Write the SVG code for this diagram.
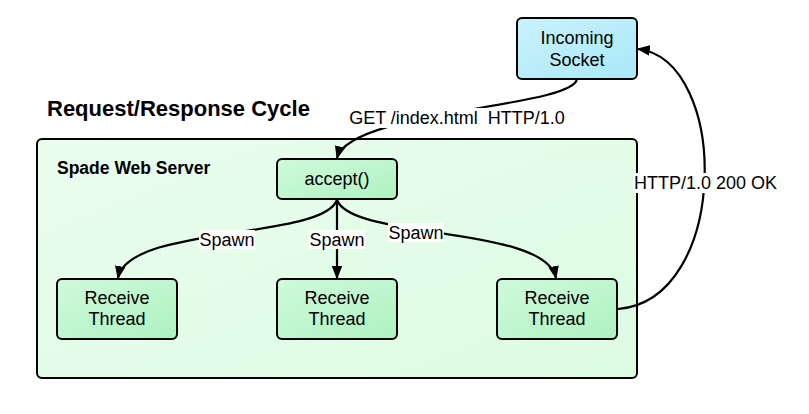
<svg xmlns="http://www.w3.org/2000/svg" width="809" height="414" viewBox="0 0 809 414">
<style>
text{font-family:"Liberation Sans",Arial,sans-serif;fill:#000}
.t{font-size:18px;text-anchor:middle}
.box{stroke:#000;stroke-width:2}
.edge{fill:none;stroke:#000;stroke-width:2.2}
.lbg{fill:#fff}
</style>
<defs>
<linearGradient id="gGreen" x1="0" y1="0" x2="1" y2="1">
<stop offset="0" stop-color="#cffadb"/><stop offset="1" stop-color="#aef2c0"/>
</linearGradient>
<linearGradient id="gBlue" x1="0" y1="0" x2="1" y2="1">
<stop offset="0" stop-color="#c9f2fc"/><stop offset="1" stop-color="#a9e8f8"/>
</linearGradient>
<linearGradient id="gCont" x1="0" y1="0" x2="1" y2="1">
<stop offset="0" stop-color="#eafdee"/><stop offset="1" stop-color="#dcfce2"/>
</linearGradient>
<marker id="arr" viewBox="0 0 10 10" refX="9" refY="5" markerWidth="6" markerHeight="6" orient="auto" markerUnits="strokeWidth">
<path d="M0,1 L10,5 L0,9 z" fill="#000"/>
</marker>
</defs>

<text x="47" y="116" style="font-size:22px;font-weight:bold">Request/Response Cycle</text>

<g id="server">
<rect class="box" x="37" y="139" width="600" height="239" rx="5" fill="url(#gCont)"/>
<text x="57" y="174" style="font-size:17.5px;font-weight:bold">Spade Web Server</text>
</g>

<g id="socket">
<rect class="box" x="517" y="18" width="120" height="61" rx="5" fill="url(#gBlue)"/>
<text class="t" x="577" y="44">Incoming</text>
<text class="t" x="577" y="66">Socket</text>
</g>

<g id="accept">
<rect class="box" x="277" y="159" width="120" height="40" rx="5" fill="url(#gGreen)"/>
<text class="t" x="337" y="185">accept()</text>
</g>

<g id="thread1">
<rect class="box" x="57" y="279" width="120" height="60" rx="5" fill="url(#gGreen)"/>
<text class="t" x="117" y="304">Receive</text>
<text class="t" x="117" y="325">Thread</text>
</g>
<g id="thread2">
<rect class="box" x="277" y="279" width="120" height="60" rx="5" fill="url(#gGreen)"/>
<text class="t" x="337" y="304">Receive</text>
<text class="t" x="337" y="325">Thread</text>
</g>
<g id="thread3">
<rect class="box" x="497" y="279" width="120" height="60" rx="5" fill="url(#gGreen)"/>
<text class="t" x="557" y="304">Receive</text>
<text class="t" x="557" y="325">Thread</text>
</g>

<g id="connectors">
<path class="edge" d="M577,79 C572,108 350,110 337,158" marker-end="url(#arr)"/>
<path class="edge" d="M337,200 C322,240 128,225 118,278" marker-end="url(#arr)"/>
<path class="edge" d="M337,200 L337,278" marker-end="url(#arr)"/>
<path class="edge" d="M337,200 C352,240 545,225 556,278" marker-end="url(#arr)"/>
<path class="edge" d="M618,309 C730,300 730,60 638,49" marker-end="url(#arr)"/>

<rect class="lbg" x="347" y="108" width="220" height="20"/>
<text class="t" x="457" y="124" xml:space="preserve">GET /index.html  HTTP/1.0</text>
<rect class="lbg" x="199" y="230" width="56" height="19"/>
<text class="t" x="227" y="246">Spawn</text>
<rect class="lbg" x="309" y="230" width="56" height="19"/>
<text class="t" x="337" y="246">Spawn</text>
<rect class="lbg" x="388" y="223" width="56" height="19"/>
<text class="t" x="416" y="239">Spawn</text>
<rect class="lbg" x="633" y="173" width="146" height="20"/>
<text class="t" x="705.5" y="189">HTTP/1.0 200 OK</text>
</g>
</svg>
